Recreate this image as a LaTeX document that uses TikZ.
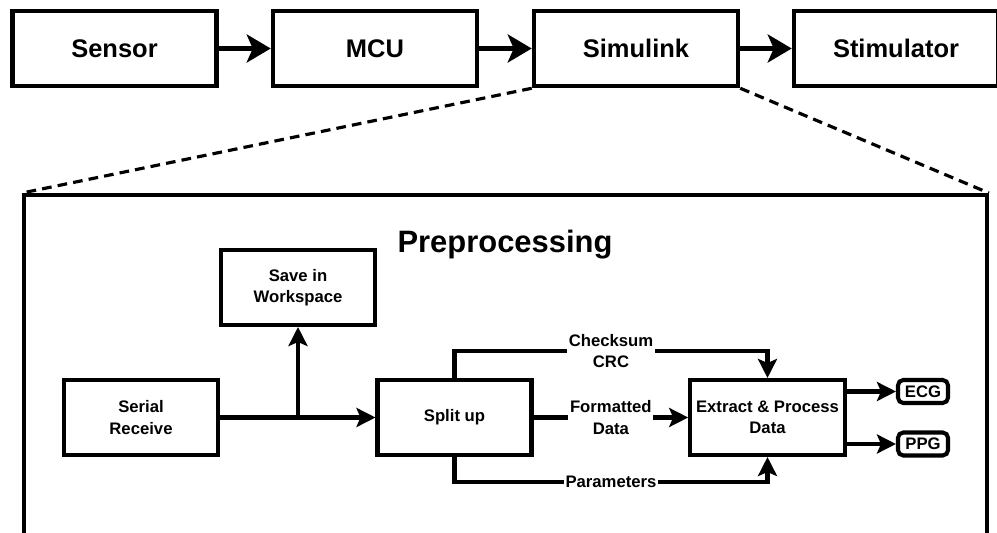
\documentclass[tikz,border=0pt]{standalone}
\usepackage{fontspec}
\setmainfont{Liberation Sans}
\usetikzlibrary{arrows.meta}
\begin{document}
\begin{tikzpicture}[x=0.02cm,y=-0.02cm,
blk/.style={draw,line width=2.6pt,minimum width=4.08cm,minimum height=1.5cm,font=\fontsize{14.5}{17}\selectfont\bfseries},
sub/.style={draw,line width=2.3pt,minimum width=3.08cm,minimum height=1.5cm,align=center,font=\fontsize{9.5}{12}\selectfont\bfseries},
tag/.style={draw,line width=2.3pt,rounded corners=3pt,minimum width=1cm,minimum height=0.46cm,inner sep=0pt,font=\fontsize{9.5}{11}\selectfont\bfseries},
lbl/.style={fill=white,inner sep=1pt,align=center,font=\fontsize{9.5}{12}\selectfont\bfseries},
bigarr/.style={line width=2.8pt,-{Stealth[length=0.48cm,width=0.56cm,inset=0.12cm]}},
arr/.style={line width=2.3pt,-{Stealth[length=0.38cm,width=0.38cm,inset=0.08cm]}}]
\useasboundingbox(0,0)rectangle(997,533);
\node[blk](sensor)at(114.5,48.5){Sensor};
\node[blk](mcu)at(375,48.5){MCU};
\node[blk](simulink)at(636,48.5){Simulink};
\node[blk](stim)at(896,48.5){Stimulator};
\draw[bigarr](sensor)--(mcu);
\draw[bigarr](mcu)--(simulink);
\draw[bigarr](simulink)--(stim);
% zoomed view of the Simulink block
\node[draw,line width=2.3pt,minimum width=19.26cm,minimum height=7.4cm](frame)at(505.5,380){};
\draw[line width=1.8pt,dash pattern=on 5.5pt off 3.5pt](simulink.south west)--(frame.north west)
(simulink.south east)--(frame.north east);
\node[font=\fontsize{17.6}{20}\selectfont\bfseries](title)at(505,245){Preprocessing};
\node[sub](save)at(298,287.5){Save in\\Workspace};
\node[sub](serial)at(141,417.5){Serial\\Receive};
\node[sub](split)at(454.5,417.5){Split up};
\node[sub](extract)at(767.5,417.5){Extract \& Process\\Data};
\node[tag](ecg)at(923,391.5){ECG};
\node[tag](ppg)at(923,444){PPG};
\coordinate(fork)at(save.south|-serial.east);
\draw[arr](serial)--(split);
\draw[arr](fork)--(save);
\draw[arr](split.north)--++(0,-27)-|node[lbl,pos=0.25]{Checksum\\CRC}(extract.north);
\draw[arr](split)--node[lbl]{Formatted\\Data}(extract);
\draw[arr](split.south)--++(0,25)-|node[lbl,pos=0.25]{Parameters}(extract.south);
\draw[arr](extract.east|-ecg)--(ecg);
\draw[arr](extract.east|-ppg)--(ppg);
\end{tikzpicture}
\end{document}
